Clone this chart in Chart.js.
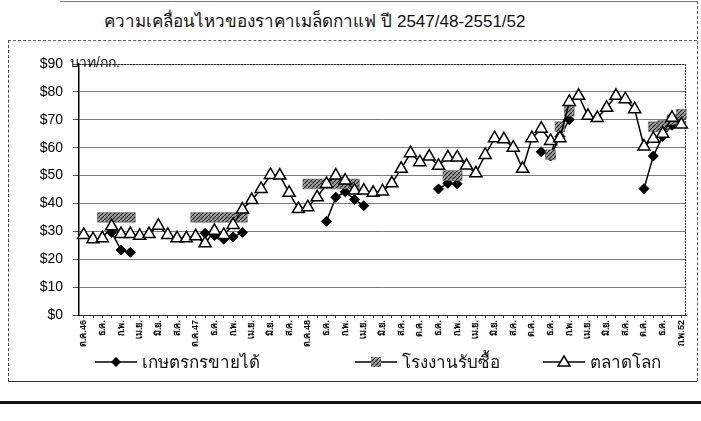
<!DOCTYPE html>
<html>
<head>
<meta charset="utf-8">
<script src="https://cdn.jsdelivr.net/npm/chart.js@4.4.0/dist/chart.umd.min.js"></script>
<style>
body { margin: 0; background: #fff; width: 701px; height: 421px; overflow: hidden; position: relative; font-family: Arial, "Liberation Sans", "Noto Sans", sans-serif; }
#chartBox { position: absolute; left: 0; top: 0; width: 701px; height: 421px; }
.rule { position: absolute; }
#title { position: absolute; left: 50px; top: 7px; width: 530px; text-align: center; font-size: 17px; color: #111; white-space: nowrap; }
#unit { position: absolute; left: 70px; top: 51px; font-size: 14px; color: #111; }
.legItem { position: absolute; top: 348px; display: flex; align-items: center; font-size: 17px; color: #111; white-space: nowrap; }
.legItem canvas { margin-right: 5px; }
</style>
</head>
<body>
<div class="rule" style="left:60px;top:1px;width:637px;height:0;border-top:1px solid #777;"></div>
<div class="rule" style="left:697px;top:1px;width:0;height:380px;border-left:1px dashed #555;"></div>
<div class="rule" style="left:8px;top:40px;width:689px;height:0;border-top:1px dashed #666;"></div>
<div class="rule" style="left:8px;top:40px;width:0;height:341px;border-left:1px dashed #444;"></div>
<div class="rule" style="left:8px;top:381px;width:689px;height:0;border-top:1px solid #333;"></div>
<div class="rule" style="left:0;top:401px;width:701px;height:3px;background:#111;"></div>
<div id="title">ความเคลื่อนไหวของราคาเมล็ดกาแฟ ปี 2547/48-2551/52</div>
<div id="chartBox"><canvas id="priceChart" width="701" height="421"></canvas></div>
<div id="unit">บาท/กก.</div>
<div class="legItem" style="left:95px;"><canvas id="legFarmer" width="42" height="16"></canvas>เกษตรกรขายได้</div>
<div class="legItem" style="left:355px;"><canvas id="legFactory" width="42" height="16"></canvas>โรงงานรับซื้อ</div>
<div class="legItem" style="left:543px;"><canvas id="legWorld" width="42" height="16"></canvas>ตลาดโลก</div>
<script>
// monthly categories, Oct 2546/03 .. Feb 2552/09
const categories = [
'ต.ค.46','พ.ย.','ธ.ค.','ม.ค.','ก.พ.','มี.ค.','เม.ย.','พ.ค.','มิ.ย.','ก.ค.','ส.ค.','ก.ย.',
'ต.ค.47','พ.ย.','ธ.ค.','ม.ค.','ก.พ.','มี.ค.','เม.ย.','พ.ค.','มิ.ย.','ก.ค.','ส.ค.','ก.ย.',
'ต.ค.48','พ.ย.','ธ.ค.','ม.ค.','ก.พ.','มี.ค.','เม.ย.','พ.ค.','มิ.ย.','ก.ค.','ส.ค.','ก.ย.',
'ต.ค.','พ.ย.','ธ.ค.','ม.ค.','ก.พ.','มี.ค.','เม.ย.','พ.ค.','มิ.ย.','ก.ค.','ส.ค.','ก.ย.',
'ต.ค.','พ.ย.','ธ.ค.','ม.ค.','ก.พ.','มี.ค.','เม.ย.','พ.ค.','มิ.ย.','ก.ค.','ส.ค.','ก.ย.',
'ต.ค.','พ.ย.','ธ.ค.','ม.ค.','ก.พ.52'
];

const farmerPrice = [
null,null,null,29.6,23.3,22.5,null,null,null,null,null,null,
null,29.3,28.5,27.2,28,29.6,null,null,null,null,null,null,
null,null,33.6,42.2,44.2,41.4,39.2,null,null,null,null,null,
null,null,45.2,47.2,47,null,null,null,null,null,null,null,
null,58.5,57,64,70,null,null,null,null,null,null,null,
45.3,57,64,68,71
];

const factoryPrice = [
null,null,35,35,35,35,null,null,null,null,null,null,
35,35,35,35,35,35,null,null,null,null,null,null,
47,47,47,47,47,47,null,null,null,null,null,null,
null,null,null,50,50,null,null,null,null,null,null,null,
null,null,57.5,67.5,73,null,null,null,null,null,null,null,
null,67.5,68,70,72
];

const worldPrice = [
28.7,27.2,27.5,31.8,29,29,28.4,29,32,28.7,27.5,27.5,
28.2,25.7,30.2,28.7,32.3,37.8,41.2,45.2,50.2,50,43.8,38,
38.6,42.2,47,50,48.2,44.6,44.6,43.8,44.3,47.2,52.4,58,
54.8,56.8,53.5,56.5,56.5,53.6,50.8,57.4,63.4,63,60,52.4,
63.4,66.8,62.4,63.4,76.4,78.6,71.4,70.6,74.3,78.6,77.4,73.8,
60.4,63.2,65,70.7,68.3
];

const seriesNames = ['เกษตรกรขายได้', 'โรงงานรับซื้อ', 'ตลาดโลก'];

function makeHatch(ctx) {
const tile = document.createElement('canvas');
tile.width = 4; tile.height = 4;
const g = tile.getContext('2d');
g.fillStyle = '#a0a0a0';
g.fillRect(0, 0, 4, 4);
g.strokeStyle = '#2b2b2b';
g.lineWidth = 1.2;
g.beginPath();
g.moveTo(-1, 5); g.lineTo(5, -1);
g.stroke();
return ctx.createPattern(tile, 'repeat');
}

function drawLegendIcon(id, kind) {
const cv = document.getElementById(id);
const g = cv.getContext('2d');
const cx = cv.width / 2, cy = cv.height / 2;
g.strokeStyle = '#000';
g.lineWidth = 1.5;
g.beginPath(); g.moveTo(0, cy); g.lineTo(cv.width, cy); g.stroke();
if (kind === 'diamond') {
g.fillStyle = '#000';
g.beginPath(); g.moveTo(cx, cy - 5); g.lineTo(cx + 5, cy); g.lineTo(cx, cy + 5); g.lineTo(cx - 5, cy); g.closePath(); g.fill();
} else if (kind === 'square') {
g.fillStyle = makeHatch(g);
g.fillRect(cx - 5, cy - 5, 10, 10);
} else {
g.fillStyle = '#fff';
g.lineWidth = 1.5;
g.beginPath(); g.moveTo(cx, cy - 6); g.lineTo(cx + 6, cy + 4); g.lineTo(cx - 6, cy + 4); g.closePath(); g.fill(); g.stroke();
}
}

const plotFrame = {
id: 'plotFrame',
beforeDatasetsDraw(chart) {
const a = chart.chartArea, ctx = chart.ctx;
ctx.save();
ctx.strokeStyle = '#333';
ctx.lineWidth = 1;
ctx.setLineDash([2, 1]);
ctx.beginPath();
ctx.moveTo(a.left, a.top + 0.5); ctx.lineTo(a.right - 0.5, a.top + 0.5); ctx.lineTo(a.right - 0.5, a.bottom);
ctx.stroke();
ctx.restore();
}
};

document.addEventListener('DOMContentLoaded', function() {
const canvas = document.getElementById('priceChart');
const ctx = canvas.getContext('2d');
const hatch = makeHatch(ctx);
window.priceChart = new Chart(ctx, {
type: 'line',
data: {
labels: categories,
datasets: [
{ label: seriesNames[0], data: farmerPrice, order: 2, borderColor: '#000', borderWidth: 1.5, pointStyle: 'rectRot', pointRadius: 5, pointBackgroundColor: '#000', pointBorderColor: '#000', pointBorderWidth: 1, tension: 0 },
{ label: seriesNames[1], data: factoryPrice, order: 1, borderColor: '#000', borderWidth: 1.5, pointStyle: 'rect', pointRadius: 7, pointBackgroundColor: hatch, pointBorderColor: '#666', pointBorderWidth: 0.5, tension: 0 },
{ label: seriesNames[2], data: worldPrice, order: 0, borderColor: '#000', borderWidth: 1.5, pointStyle: 'triangle', pointRadius: 7, pointBackgroundColor: '#fff', pointBorderColor: '#000', pointBorderWidth: 1.5, tension: 0 }
]
},
options: {
responsive: false, animation: false, maintainAspectRatio: false,
layout: { padding: { left: 0, right: 15, top: 64, bottom: 70 } },
plugins: { legend: { display: false }, title: { display: false }, tooltip: { enabled: false } },
scales: {
x: {
type: 'category', offset: true,
afterFit: function(scale) { scale.height = 36; },
grid: { drawOnChartArea: false, drawTicks: true, tickLength: 3, color: '#444' },
border: { display: true, color: '#333', width: 1, dash: [2, 1] },
ticks: { autoSkip: false, maxRotation: 90, minRotation: 90, padding: 2, color: '#000', font: { family: 'Arial, "Liberation Sans", "Noto Sans", sans-serif', size: 9, weight: 'bold' },
callback: function(v, i) { return i % 2 === 0 ? categories[i] : ''; } }
},
y: {
min: 0, max: 90,
afterFit: function(scale) { scale.width = 79; },
grid: { color: '#7a7a7a', lineWidth: 1, drawTicks: true, tickLength: 6, tickColor: '#555' },
border: { display: true, color: '#000', width: 1.5 },
ticks: { stepSize: 10, padding: 10, color: '#000', font: { family: 'Arial, "Liberation Sans", sans-serif', size: 14 },
callback: function(v) { return '$' + v; } }
}
}
},
plugins: [plotFrame]
});
drawLegendIcon('legFarmer', 'diamond');
drawLegendIcon('legFactory', 'square');
drawLegendIcon('legWorld', 'triangle');
});
</script>
</body>
</html>
